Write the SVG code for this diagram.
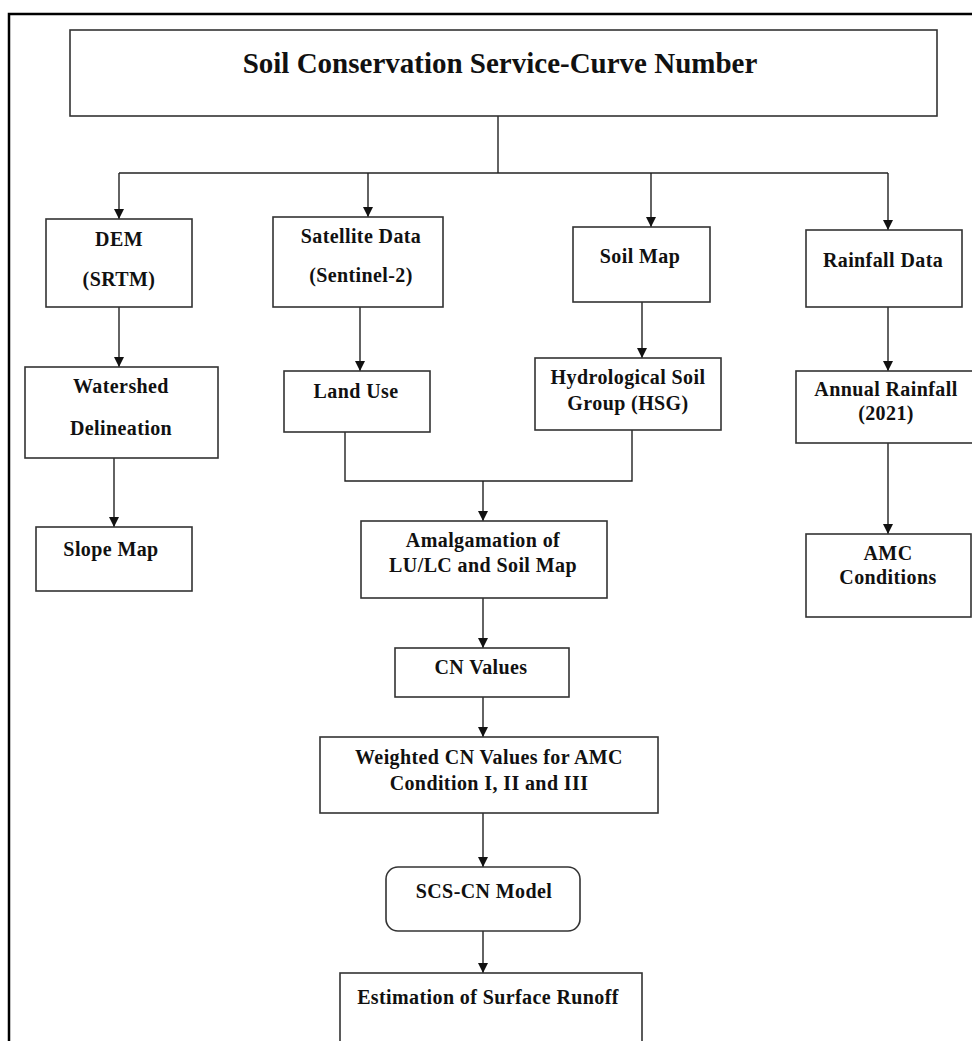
<svg xmlns="http://www.w3.org/2000/svg" width="972" height="1041" viewBox="0 0 972 1041">
<style>
.box{fill:#fff;stroke:#333;stroke-width:1.6}
.t{font-family:"Liberation Serif","Times New Roman",serif;font-weight:bold;font-size:20px;letter-spacing:0.4px;fill:#111;text-anchor:middle}
.title{font-family:"Liberation Serif","Times New Roman",serif;font-weight:bold;font-size:29px;fill:#111;text-anchor:middle}
.c{fill:none;stroke:#222;stroke-width:1.4}
</style>
<defs>
<marker id="ah" markerUnits="userSpaceOnUse" markerWidth="10" markerHeight="10" refX="10" refY="5" orient="auto">
<path d="M0,0 L10,5 L0,10 z" fill="#111"/>
</marker>
</defs>
<rect x="0" y="0" width="972" height="1041" fill="#fff"/>
<rect x="9" y="14" width="1000" height="1100" fill="none" stroke="#000" stroke-width="2.5"/>

<g id="connectors">
<polyline class="c" points="498,116 498,173"/>
<polyline class="c" points="119,173 888,173"/>
<line class="c" x1="119" y1="173" x2="119" y2="219" marker-end="url(#ah)"/>
<line class="c" x1="368" y1="173" x2="368" y2="217" marker-end="url(#ah)"/>
<line class="c" x1="651" y1="173" x2="651" y2="227" marker-end="url(#ah)"/>
<line class="c" x1="888" y1="173" x2="888" y2="230" marker-end="url(#ah)"/>
<line class="c" x1="119" y1="307" x2="119" y2="367" marker-end="url(#ah)"/>
<line class="c" x1="114" y1="458" x2="114" y2="527" marker-end="url(#ah)"/>
<line class="c" x1="360" y1="307" x2="360" y2="371" marker-end="url(#ah)"/>
<line class="c" x1="642" y1="302" x2="642" y2="358" marker-end="url(#ah)"/>
<line class="c" x1="888" y1="307" x2="888" y2="371" marker-end="url(#ah)"/>
<line class="c" x1="888" y1="443" x2="888" y2="534" marker-end="url(#ah)"/>
<polyline class="c" points="345,432 345,481 632,481 632,430"/>
<line class="c" x1="483" y1="481" x2="483" y2="521" marker-end="url(#ah)"/>
<line class="c" x1="483" y1="598" x2="483" y2="648" marker-end="url(#ah)"/>
<line class="c" x1="483" y1="697" x2="483" y2="737" marker-end="url(#ah)"/>
<line class="c" x1="483" y1="813" x2="483" y2="867" marker-end="url(#ah)"/>
<line class="c" x1="483" y1="931" x2="483" y2="973" marker-end="url(#ah)"/>
</g>

<g id="title">
<rect class="box" x="70" y="30" width="867" height="86"/>
<text class="title" x="500" y="73">Soil Conservation Service-Curve Number</text>
</g>

<g id="dem">
<rect class="box" x="46" y="219" width="146" height="88"/>
<text class="t" x="119" y="246">DEM</text>
<text class="t" x="119" y="286">(SRTM)</text>
</g>

<g id="satellite">
<rect class="box" x="273" y="217" width="170" height="90"/>
<text class="t" x="361" y="243">Satellite Data</text>
<text class="t" x="361" y="282">(Sentinel-2)</text>
</g>

<g id="soilmap">
<rect class="box" x="573" y="227" width="137" height="75"/>
<text class="t" x="640" y="263">Soil Map</text>
</g>

<g id="rainfall">
<rect class="box" x="806" y="230" width="156" height="77"/>
<text class="t" x="883" y="267">Rainfall Data</text>
</g>

<g id="watershed">
<rect class="box" x="25" y="367" width="193" height="91"/>
<text class="t" x="121" y="393">Watershed</text>
<text class="t" x="121" y="435">Delineation</text>
</g>

<g id="landuse">
<rect class="box" x="284" y="371" width="146" height="61"/>
<text class="t" x="356" y="398">Land Use</text>
</g>

<g id="hsg">
<rect class="box" x="535" y="358" width="186" height="72"/>
<text class="t" x="628" y="384">Hydrological Soil</text>
<text class="t" x="628" y="410">Group (HSG)</text>
</g>

<g id="annual">
<rect class="box" x="796" y="371" width="200" height="72"/>
<text class="t" x="886" y="396">Annual Rainfall</text>
<text class="t" x="886" y="420">(2021)</text>
</g>

<g id="slope">
<rect class="box" x="36" y="527" width="156" height="64"/>
<text class="t" x="111" y="556">Slope Map</text>
</g>

<g id="amalgamation">
<rect class="box" x="361" y="521" width="246" height="77"/>
<text class="t" x="483" y="547">Amalgamation of</text>
<text class="t" x="483" y="572">LU/LC and Soil Map</text>
</g>

<g id="amc">
<rect class="box" x="806" y="534" width="165" height="83"/>
<text class="t" x="888" y="560">AMC</text>
<text class="t" x="888" y="584">Conditions</text>
</g>

<g id="cnvalues">
<rect class="box" x="395" y="648" width="174" height="49"/>
<text class="t" x="481" y="674">CN Values</text>
</g>

<g id="weighted">
<rect class="box" x="320" y="737" width="338" height="76"/>
<text class="t" x="489" y="764">Weighted CN Values for AMC</text>
<text class="t" x="489" y="790">Condition I, II and III</text>
</g>

<g id="scscn">
<rect class="box" x="386" y="867" width="194" height="64" rx="12" ry="12"/>
<text class="t" x="484" y="898">SCS-CN Model</text>
</g>

<g id="estimation">
<rect class="box" x="340" y="973" width="302" height="100"/>
<text class="t" x="488" y="1004">Estimation of Surface Runoff</text>
</g>
</svg>
